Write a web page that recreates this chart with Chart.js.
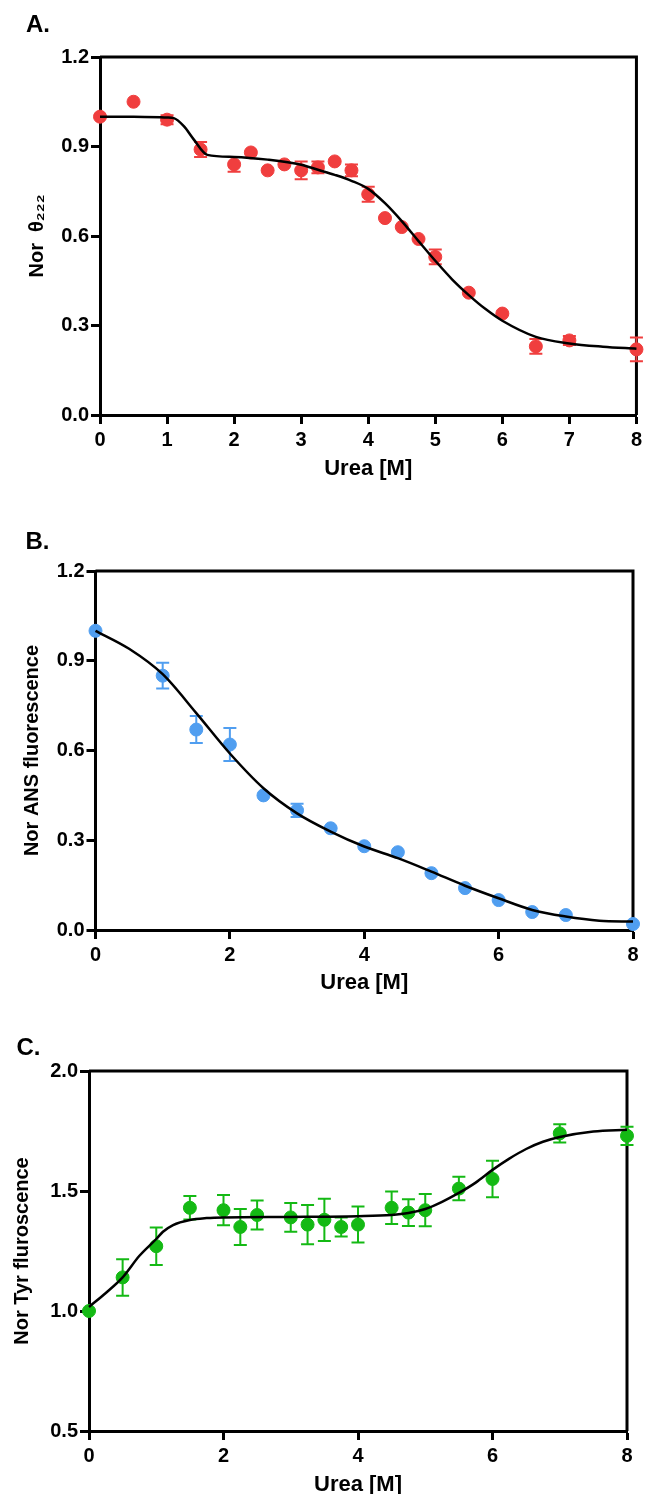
<!DOCTYPE html>
<html>
<head>
<meta charset="utf-8">
<script src="https://cdn.jsdelivr.net/npm/chart.js@4.4.0/dist/chart.umd.min.js"></script>
<style>
  html, body { margin: 0; padding: 0; background: #fff; overflow: hidden; }
  .panel { position: absolute; left: 0; width: 646px; height: 500px; }
</style>
</head>
<body>
<div class="panel" style="top:0"><canvas id="chartA" width="646" height="500"></canvas></div>
<div class="panel" style="top:500px"><canvas id="chartB" width="646" height="500"></canvas></div>
<div class="panel" style="top:1000px"><canvas id="chartC" width="646" height="500"></canvas></div>
<script>
/* panel A - CD signal */
const ureaA = [0, 0.5, 1, 1.5, 2, 2.25, 2.5, 2.75, 3, 3.25, 3.5, 3.75, 4, 4.25, 4.5, 4.75, 5, 5.5, 6, 6.5, 7, 8];
const thetaA = [1.00, 1.05, 0.99, 0.89, 0.84, 0.88, 0.82, 0.84, 0.82, 0.83, 0.85, 0.82, 0.74, 0.66, 0.63, 0.59, 0.53, 0.41, 0.34, 0.23, 0.25, 0.22];
const errA = [0, 0, 0.015, 0.025, 0.025, 0, 0, 0, 0.03, 0.02, 0, 0.02, 0.025, 0, 0, 0, 0.025, 0, 0, 0.025, 0.015, 0.04];
const fitUreaA = [0, 0.5, 1.0, 1.1, 1.25, 1.4, 1.6, 2.0, 2.5, 3.0, 3.25, 3.5, 3.75, 4.0, 4.25, 4.5, 4.75, 5.0, 5.25, 5.5, 5.75, 6.0, 6.5, 7.0, 7.5, 8.0];
const fitA = [1.0, 1.0, 0.997, 0.995, 0.968, 0.923, 0.872, 0.865, 0.856, 0.839, 0.822, 0.805, 0.785, 0.758, 0.71, 0.65, 0.583, 0.517, 0.455, 0.402, 0.355, 0.316, 0.262, 0.24, 0.229, 0.222];
const xTicksA = [0, 1, 2, 3, 4, 5, 6, 7, 8];
const yTicksA = [0, 0.3, 0.6, 0.9, 1.2];

/* panel B - ANS */
const ureaB = [0, 1, 1.5, 2, 2.5, 3, 3.5, 4, 4.5, 5, 5.5, 6, 6.5, 7, 8];
const ansB = [1.00, 0.85, 0.67, 0.62, 0.45, 0.40, 0.34, 0.28, 0.26, 0.19, 0.14, 0.10, 0.06, 0.05, 0.02];
const errB = [0, 0.043, 0.045, 0.055, 0, 0.022, 0, 0, 0, 0, 0, 0, 0, 0, 0];
const fitUreaB = [0, 0.5, 1, 1.5, 2, 2.5, 3, 3.5, 4, 4.5, 5, 5.5, 6, 6.5, 7, 7.5, 8];
const fitB = [1.0, 0.94, 0.855, 0.725, 0.59, 0.474, 0.39, 0.329, 0.279, 0.24, 0.195, 0.148, 0.106, 0.067, 0.045, 0.031, 0.028];
const xTicksB = [0, 2, 4, 6, 8];
const yTicksB = [0, 0.3, 0.6, 0.9, 1.2];

/* panel C - Tyr */
const ureaC = [0, 0.5, 1, 1.5, 2, 2.25, 2.5, 3, 3.25, 3.5, 3.75, 4, 4.5, 4.75, 5, 5.5, 6, 7, 8];
const tyrC = [1.00, 1.14, 1.27, 1.43, 1.42, 1.35, 1.40, 1.39, 1.36, 1.38, 1.35, 1.36, 1.43, 1.41, 1.42, 1.51, 1.55, 1.74, 1.73];
const errC = [0, 0.076, 0.078, 0.049, 0.063, 0.075, 0.06, 0.06, 0.082, 0.088, 0.04, 0.075, 0.068, 0.056, 0.067, 0.049, 0.076, 0.038, 0.038];
const fitUreaC = [0, 0.25, 0.5, 0.75, 1.0, 1.1, 1.25, 1.5, 1.75, 2, 3, 4, 4.5, 4.75, 5, 5.25, 5.5, 5.75, 6, 6.25, 6.5, 6.75, 7, 7.5, 8];
const fitC = [1.017, 1.075, 1.14, 1.23, 1.30, 1.33, 1.358, 1.379, 1.387, 1.39, 1.392, 1.395, 1.40, 1.408, 1.425, 1.455, 1.492, 1.535, 1.588, 1.635, 1.675, 1.705, 1.725, 1.748, 1.755];
const xTicksC = [0, 2, 4, 6, 8];
const yTicksC = [0.5, 1.0, 1.5, 2.0];

const FONT = "Arial, 'Liberation Sans', sans-serif";

// error bars drawn under the points
const errorBars = {
    id: 'errorBars',
    beforeDatasetsDraw(chart) {
        const { ctx, scales: { x, y } } = chart;
        chart.data.datasets.forEach(ds => {
            if (!ds.errors) return;
            ctx.save();
            ctx.strokeStyle = ds.backgroundColor;
            ctx.lineWidth = 2;
            ds.data.forEach((p, i) => {
                const e = ds.errors[i];
                if (!e) return;
                const px = x.getPixelForValue(p.x);
                const top = y.getPixelForValue(p.y + e);
                const bot = y.getPixelForValue(p.y - e);
                ctx.beginPath();
                ctx.moveTo(px, top); ctx.lineTo(px, bot);
                ctx.moveTo(px - 6.5, top); ctx.lineTo(px + 6.5, top);
                ctx.moveTo(px - 6.5, bot); ctx.lineTo(px + 6.5, bot);
                ctx.stroke();
            });
            ctx.restore();
        });
    }
};

// top + right border of the box, and the panel letter
const frame = {
    id: 'frame',
    beforeDatasetsDraw(chart) {
        const { ctx, chartArea: a } = chart;
        ctx.save();
        ctx.strokeStyle = '#000';
        ctx.lineWidth = 3;
        ctx.beginPath();
        ctx.moveTo(a.left, a.top);
        ctx.lineTo(a.right, a.top);
        ctx.lineTo(a.right, a.bottom);
        ctx.stroke();
        ctx.restore();
    },
    afterDraw(chart, args, opts) {
        const { ctx } = chart;
        ctx.save();
        ctx.font = 'bold 24px ' + FONT;
        ctx.fillStyle = '#000';
        ctx.textBaseline = 'middle';
        ctx.textAlign = 'left';
        ctx.fillText(opts.letter, opts.x, opts.y);
        ctx.restore();
    }
};

function toPts(xs, ys) {
    return xs.map((v, i) => ({ x: v, y: ys[i] }));
}

function makePanel(id, p) {
    return new Chart(document.getElementById(id), {
        type: 'scatter',
        data: {
            datasets: [{
                type: 'line',
                data: toPts(p.fitX, p.fitY),
                borderColor: '#000',
                borderWidth: 2.5,
                pointRadius: 0,
                cubicInterpolationMode: 'monotone',
                fill: false,
                order: 0,
                clip: false
            }, {
                data: toPts(p.xs, p.ys),
                errors: p.errs,
                backgroundColor: p.color,
                borderColor: p.color,
                pointRadius: 6.5,
                pointHoverRadius: 6.5,
                order: 1,
                clip: false
            }]
        },
        options: {
            responsive: false,
            animation: false,
            events: [],
            layout: { padding: { top: p.top, right: 646 - p.right, bottom: 0, left: 0 } },
            plugins: {
                legend: { display: false },
                tooltip: { enabled: false },
                frame: { letter: p.letter, x: p.letterX, y: p.letterY }
            },
            scales: {
                x: {
                    type: 'linear',
                    min: 0, max: 8,
                    afterBuildTicks: s => { s.ticks = p.xTicks.map(v => ({ value: v })); },
                    afterFit: s => { s.height = 500 - p.bottom; },
                    border: { color: '#000', width: 3 },
                    grid: { drawOnChartArea: false, tickLength: 9, tickWidth: 3, tickColor: '#000' },
                    ticks: { color: '#000', padding: 4, font: { family: FONT, size: 20, weight: 'bold' } },
                    title: {
                        display: true, text: 'Urea [M]', color: '#000',
                        font: { family: FONT, size: 22, weight: 'bold', lineHeight: 1 },
                        padding: { top: 0, bottom: p.xTitlePad }
                    }
                },
                y: {
                    min: p.yMin, max: p.yMax,
                    afterBuildTicks: s => { s.ticks = p.yTicks.map(v => ({ value: v })); },
                    afterFit: s => { s.width = p.left; },
                    border: { color: '#000', width: 3 },
                    grid: { drawOnChartArea: false, tickLength: 9, tickWidth: 3, tickColor: '#000' },
                    ticks: {
                        color: '#000', padding: 2,
                        font: { family: FONT, size: 20, weight: 'bold' },
                        callback: v => v.toFixed(1)
                    },
                    title: {
                        display: true, text: p.yTitle, color: '#000',
                        font: { family: FONT, size: 20, weight: 'bold', lineHeight: 1 },
                        padding: { top: p.yTitlePad, bottom: 0 }
                    }
                }
            }
        },
        plugins: [frame, errorBars]
    });
}

makePanel('chartA', {
    xs: ureaA, ys: thetaA, errs: errA, fitX: fitUreaA, fitY: fitA,
    xTicks: xTicksA, yTicks: yTicksA, yMin: 0, yMax: 1.2,
    color: 'rgb(240, 62, 62)',
    letter: 'A.', letterX: 26, letterY: 25,
    left: 100, right: 638.5, top: 57, bottom: 415,
    yTitle: 'Nor  \u03b8\u2082\u2082\u2082', yTitlePad: 27, xTitlePad: 20
});

makePanel('chartB', {
    xs: ureaB, ys: ansB, errs: errB, fitX: fitUreaB, fitY: fitB,
    xTicks: xTicksB, yTicks: yTicksB, yMin: 0, yMax: 1.2,
    color: 'rgb(80, 158, 240)',
    letter: 'B.', letterX: 25.5, letterY: 42.5,
    left: 95.5, right: 633, top: 71, bottom: 430,
    yTitle: 'Nor ANS fluorescence', yTitlePad: 22, xTitlePad: 6.5
});

makePanel('chartC', {
    xs: ureaC, ys: tyrC, errs: errC, fitX: fitUreaC, fitY: fitC,
    xTicks: xTicksC, yTicks: yTicksC, yMin: 0.5, yMax: 2.0,
    color: 'rgb(20, 185, 20)',
    letter: 'C.', letterX: 16.5, letterY: 48.5,
    left: 89, right: 627, top: 71, bottom: 431,
    yTitle: 'Nor Tyr fluroscence', yTitlePad: 12.5, xTitlePad: 4
});
</script>
</body>
</html>
